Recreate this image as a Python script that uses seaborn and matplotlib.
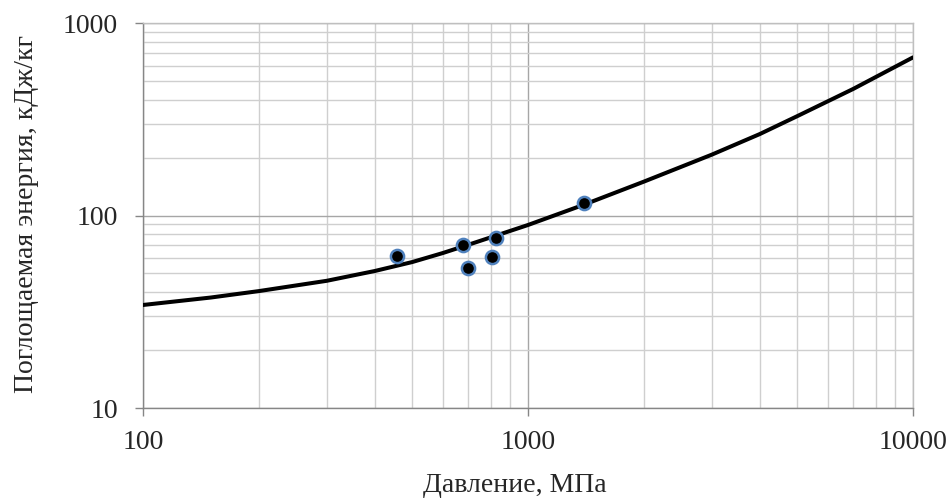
import numpy as np
import pandas as pd
import matplotlib
matplotlib.use("Agg")
import matplotlib.pyplot as plt
import matplotlib.ticker as mticker
import seaborn as sns

# fitted curve
curve_pressure = [100, 150, 200, 300, 400, 500, 600, 700, 800, 1000, 1400,
                  2000, 3000, 4000, 5000, 7000, 10000]
curve_energy = [34.3, 37.5, 40.5, 45.8, 51.5, 57.3, 63.8, 70.5, 77.0, 89.3,
                114.0, 150.0, 207.0, 265.0, 328.0, 455.0, 663.0]

# experimental points
exp_pressure = [456, 679, 700, 807, 824, 1398]
exp_energy = [61.6, 70.3, 53.6, 60.9, 76.1, 116.5]

x_label = "Давление, МПа"
y_label = "Поглощаемая энергия, кДж/кг"

sns.set_style("white")
plt.rcParams["font.family"] = ["Liberation Serif", "DejaVu Serif"]

curve_df = pd.DataFrame({"p": curve_pressure, "e": curve_energy})
exp_df = pd.DataFrame({"p": exp_pressure, "e": exp_energy})

fig = plt.figure(figsize=(9.51, 5.01), dpi=100)
ax = fig.add_axes([0.1504, 0.1856, 0.8096, 0.7684])

ax.set_xscale("log")
ax.set_yscale("log")
ax.set_xlim(100, 10000)
ax.set_ylim(10, 1000)

# grid: major darker, minor lighter
ax.xaxis.set_minor_locator(mticker.LogLocator(base=10, subs=np.arange(2, 10)))
ax.yaxis.set_minor_locator(mticker.LogLocator(base=10, subs=np.arange(2, 10)))
ax.grid(which="major", color="#a6a6a6", linewidth=1.0)
ax.grid(which="minor", color="#cfcfcf", linewidth=1.0)
ax.set_axisbelow(True)

sns.lineplot(data=curve_df, x="p", y="e", ax=ax, color="black",
             linewidth=2.9, estimator=None, sort=True, zorder=3)
sns.scatterplot(data=exp_df, x="p", y="e", ax=ax, color="black",
                edgecolor="#4f81bd", linewidth=1.8, s=90, zorder=4)

ax.xaxis.set_major_formatter(mticker.FuncFormatter(lambda v, _: f"{v:g}"))
ax.yaxis.set_major_formatter(mticker.FuncFormatter(lambda v, _: f"{v:g}"))
ax.xaxis.set_minor_formatter(mticker.NullFormatter())
ax.yaxis.set_minor_formatter(mticker.NullFormatter())

ax.tick_params(which="major", direction="out", length=6, width=1,
               color="#868686", labelsize=20, bottom=True, left=True)
ax.tick_params(axis="y", pad=12)
ax.tick_params(axis="x", pad=10)
ax.tick_params(which="minor", length=0)

for side in ["left", "bottom"]:
    ax.spines[side].set_color("#868686")
    ax.spines[side].set_linewidth(1.0)
for side in ["top", "right"]:
    ax.spines[side].set_color("#bfbfbf")
    ax.spines[side].set_linewidth(1.0)

ax.set_xlabel("")
ax.set_ylabel("")
fig.text(515 / 951, 1 - 485 / 501, x_label, fontsize=20,
         ha="center", va="center")
fig.text(27 / 951, 1 - 214 / 501, y_label, fontsize=20,
         ha="center", va="center", rotation=90)

fig.savefig("out.png", dpi=100)
